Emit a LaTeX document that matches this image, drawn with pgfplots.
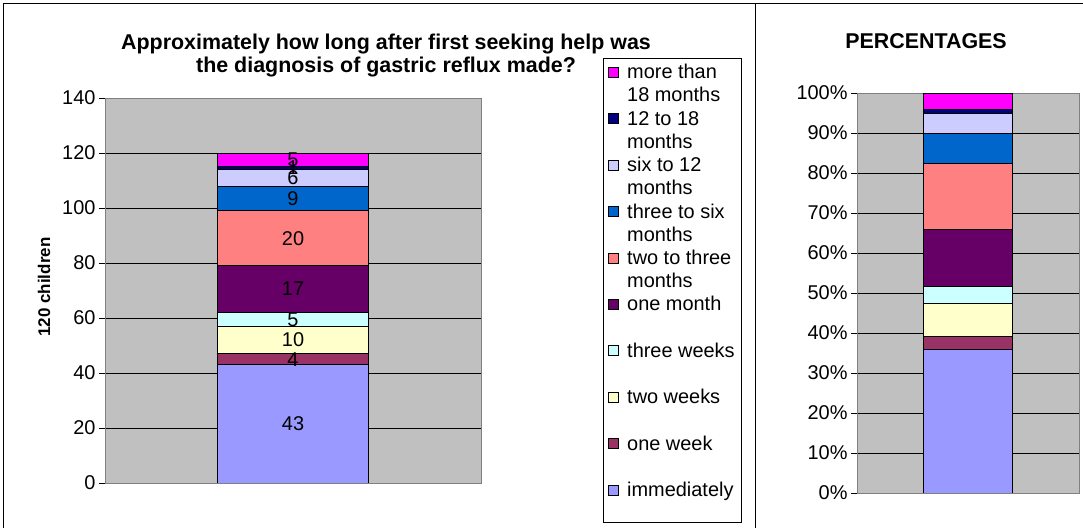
\documentclass[border=0pt]{standalone}
\usepackage{pgfplots}
\pgfplotsset{compat=1.18}
\usepackage{fontspec}
\setmainfont{Liberation Sans}

\definecolor{cImm}{HTML}{9999FF}
\definecolor{cWkA}{HTML}{993366}
\definecolor{cWkB}{HTML}{FFFFCC}
\definecolor{cWkC}{HTML}{CCFFFF}
\definecolor{cMA}{HTML}{660066}
\definecolor{cMB}{HTML}{FF8080}
\definecolor{cMC}{HTML}{0066CC}
\definecolor{cMD}{HTML}{CCCCFF}
\definecolor{cME}{HTML}{000080}
\definecolor{cMF}{HTML}{FF00FF}
\definecolor{plotgray}{HTML}{C0C0C0}
\definecolor{edgegray}{HTML}{808080}

\newcommand{\nf}{\fontsize{20}{23}\selectfont}
\newcommand{\lstrut}{\rule[-6.9bp]{0pt}{23bp}}
\newcommand{\lgd}[2]{\vbox{\offinterlineskip\hbox{\lstrut #1}\hbox{\lstrut #2}\kern6.9bp}}
\newcommand{\lgdlast}[1]{\vbox{\offinterlineskip\hbox{\lstrut #1}\kern14bp}}

\pgfplotsset{
  common/.style={
    scale only axis,
    ybar stacked,
    bar width=1,
    xmin=-1.25, xmax=1.25,
    ymin=0,
    xtick=\empty,
    axis background/.style={fill=plotgray},
    axis line style={draw=edgegray, line width=0.9bp},
    ymajorgrids,
    major grid style={draw=black, line width=0.8bp},
    ytick pos=left,
    tick align=outside,
    major tick length=6bp,
    tick style={draw=black, line width=0.8bp},
    yticklabel style={font=\nf},
    every axis plot post/.append style={
      draw=black, line width=0.8bp,
      legend image code/.code={\draw[##1, draw=black, line width=0.8bp] (0bp,-15bp) rectangle (10bp,-5bp);}
    },
  },
  labels/.style={
    scale only axis, hide axis,
    xmin=-1.25, xmax=1.25, ymin=0,
  }
}

\begin{document}
\begin{tikzpicture}
\useasboundingbox (0,0) rectangle (1083bp,528bp);

% frame
\draw[black, line width=1.2bp] (3.5bp,0bp) -- (3.5bp,524.5bp) -- (1083bp,524.5bp);
\draw[black, line width=1.2bp] (755.5bp,0bp) -- (755.5bp,524.5bp);

% left chart
\begin{axis}[common,
  at={(105bp,45bp)}, anchor=south west,
  width=376bp, height=385bp,
  ymax=140, ytick={0,20,...,140},
  yticklabels={0,20,40,60,80,100,120,140},
  reverse legend,
  legend cell align=left,
  legend style={at={(1.3245,1.1039)}, anchor=north west,
    draw=black, line width=0.8bp, fill=white, font=\nf,
    inner xsep=5bp, inner ysep=4bp, row sep=-8.4bp, column sep=6bp,
    cells={anchor=north west},
    nodes={inner xsep=2bp, inner ysep=0pt}},
]
\addplot[fill=cImm] coordinates {(0,43)};
\addlegendentry{\lgdlast{immediately}}
\addplot[fill=cWkA] coordinates {(0,4)};
\addlegendentry{\lgd{one week}{}}
\addplot[fill=cWkB] coordinates {(0,10)};
\addlegendentry{\lgd{two weeks}{}}
\addplot[fill=cWkC] coordinates {(0,5)};
\addlegendentry{\lgd{three weeks}{}}
\addplot[fill=cMA] coordinates {(0,17)};
\addlegendentry{\lgd{one month}{}}
\addplot[fill=cMB] coordinates {(0,20)};
\addlegendentry{\lgd{two to three}{months}}
\addplot[fill=cMC] coordinates {(0,9)};
\addlegendentry{\lgd{three to six}{months}}
\addplot[fill=cMD] coordinates {(0,6)};
\addlegendentry{\lgd{six to 12}{months}}
\addplot[fill=cME] coordinates {(0,1)};
\addlegendentry{\lgd{12 to 18}{months}}
\addplot[fill=cMF] coordinates {(0,5)};
\addlegendentry{\lgd{more than}{18 months}}
\end{axis}

% left data labels
\begin{axis}[labels,
  at={(105bp,45bp)}, anchor=south west,
  width=376bp, height=385bp, ymax=140]
\addplot[draw=none, mark=none, nodes near coords, point meta=explicit symbolic,
  nodes near coords align=center,
  every node near coord/.append style={font=\nf, inner sep=0pt, anchor=center, text=black}]
  coordinates {(0,21.5)[43] (0,45)[4] (0,52)[10] (0,59.5)[5] (0,70.5)[17]
               (0,89)[20] (0,103.5)[9] (0,111)[6] (0,114.5)[1] (0,117.5)[5]};
\end{axis}

% right chart
\begin{axis}[common,
  at={(857bp,35bp)}, anchor=south west,
  width=222bp, height=400bp,
  ymax=100, ytick={0,10,...,100},
  yticklabels={0\%,10\%,20\%,30\%,40\%,50\%,60\%,70\%,80\%,90\%,100\%},
]
\addplot[fill=cImm] coordinates {(0,35.83)};
\addplot[fill=cWkA] coordinates {(0,3.33)};
\addplot[fill=cWkB] coordinates {(0,8.33)};
\addplot[fill=cWkC] coordinates {(0,4.17)};
\addplot[fill=cMA] coordinates {(0,14.17)};
\addplot[fill=cMB] coordinates {(0,16.67)};
\addplot[fill=cMC] coordinates {(0,7.50)};
\addplot[fill=cMD] coordinates {(0,5.00)};
\addplot[fill=cME] coordinates {(0,0.83)};
\addplot[fill=cMF] coordinates {(0,4.17)};
\end{axis}

% titles
\node[font=\bfseries\fontsize{21.5}{23.5}\selectfont, align=center] at (386bp,472.5bp)
  {Approximately how long after first seeking help was\\the diagnosis of gastric reflux made?};
\node[font=\bfseries\fontsize{21.5}{23.5}\selectfont] at (926bp,487bp) {PERCENTAGES};
\node[rotate=90, font=\bfseries\fontsize{17}{20}\selectfont] at (44bp,241bp) {120 children};
\end{tikzpicture}
\end{document}
